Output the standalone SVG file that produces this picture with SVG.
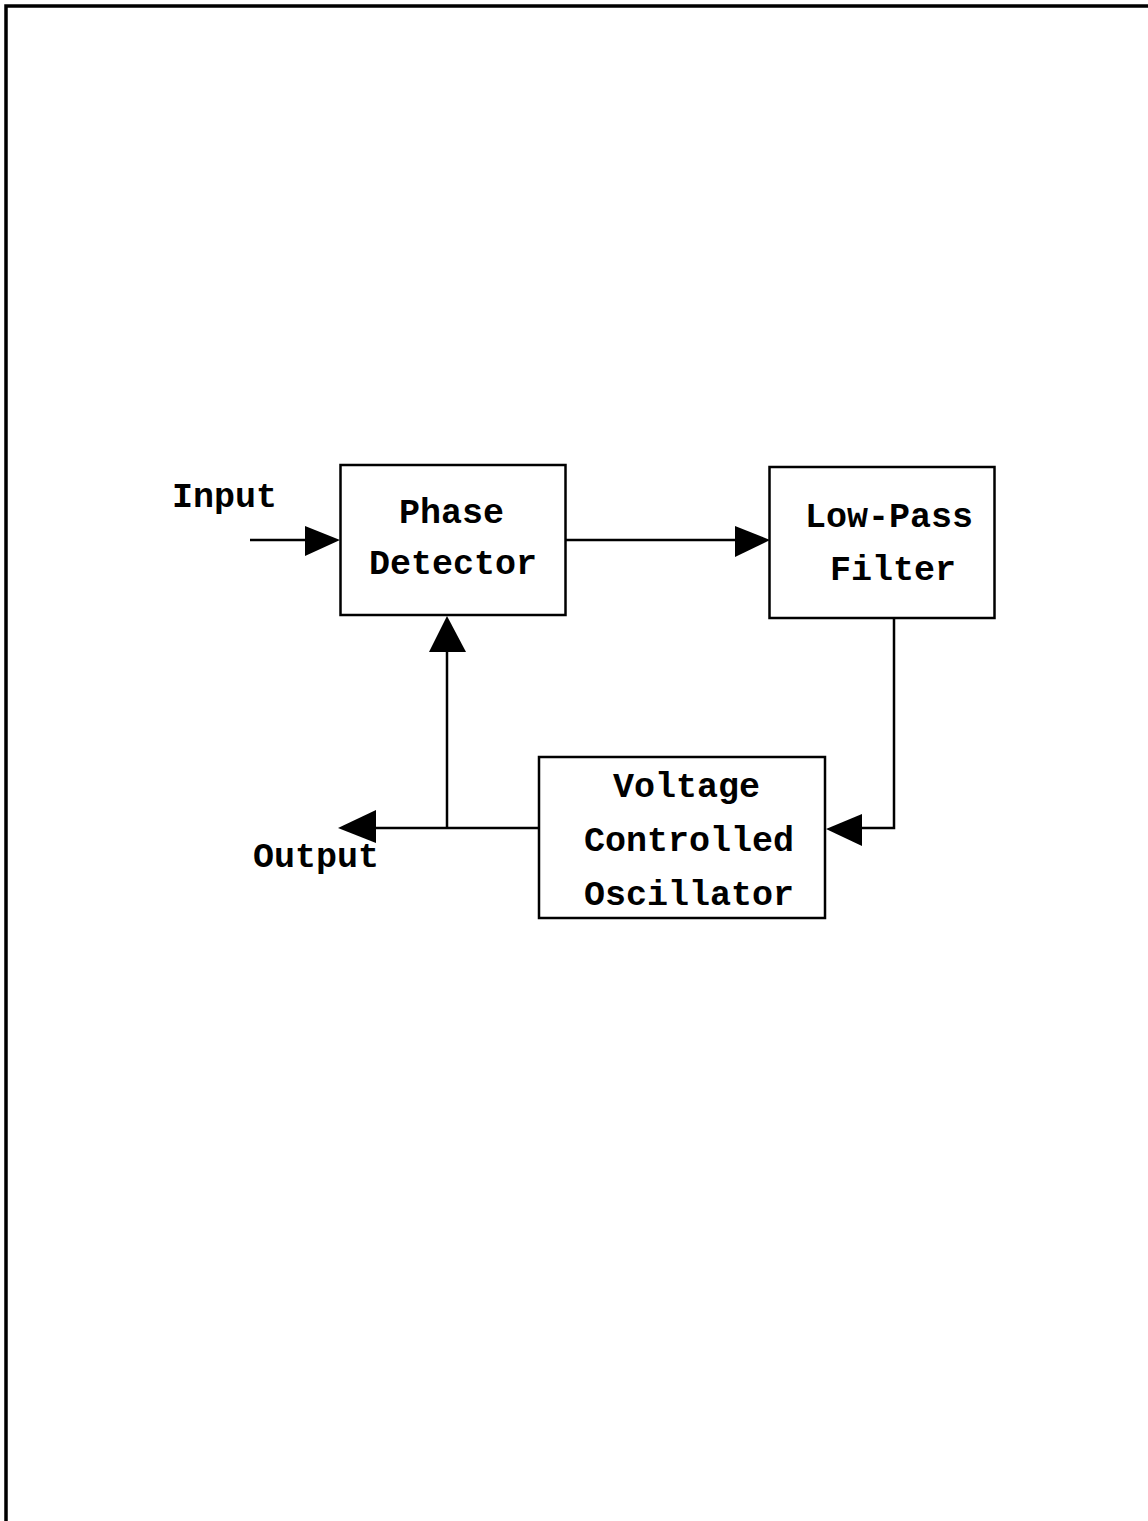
<svg xmlns="http://www.w3.org/2000/svg" width="1148" height="1521" viewBox="0 0 1148 1521">
<style>
.box{fill:#fff;stroke:#000;stroke-width:2.5}
.t{font-family:"Liberation Mono","Courier New",monospace;font-weight:bold;font-size:35px;fill:#000}
.ln{fill:none;stroke:#000;stroke-width:2.5}
.ah{fill:#000}
</style>
<rect width="1148" height="1521" fill="#fff"/>
<path d="M6,1521 V6 H1148" fill="none" stroke="#000" stroke-width="3.5"/>
<g id="connectors">
<path class="ln" d="M250,540 H310"/>
<polygon class="ah" points="340,540 305,526 305,556"/>
<path class="ln" d="M566,540 H740"/>
<polygon class="ah" points="770,540 735,526 735,557"/>
<path class="ln" d="M894,618 V828 H860"/>
<polygon class="ah" points="826,829 862,814 862,846"/>
<path class="ln" d="M538,828 H370"/>
<polygon class="ah" points="338,828 376,810 376,843"/>
<path class="ln" d="M447,828 V648"/>
<polygon class="ah" points="447,616 429,652 466,652"/>
</g>
<g id="input"><text class="t" x="172" y="507">Input</text></g>
<g id="output"><text class="t" x="253" y="867">Output</text></g>
<g id="phase-detector">
<rect class="box" x="340.5" y="465" width="225" height="150"/>
<text class="t" x="399" y="523">Phase</text>
<text class="t" x="369" y="574">Detector</text>
</g>
<g id="low-pass-filter">
<rect class="box" x="769.5" y="467" width="225" height="151"/>
<text class="t" x="805" y="527">Low-Pass</text>
<text class="t" x="830" y="580">Filter</text>
</g>
<g id="vco">
<rect class="box" x="539" y="757" width="286" height="161"/>
<text class="t" x="613" y="797">Voltage</text>
<text class="t" x="584" y="851">Controlled</text>
<text class="t" x="584" y="905">Oscillator</text>
</g>
</svg>
